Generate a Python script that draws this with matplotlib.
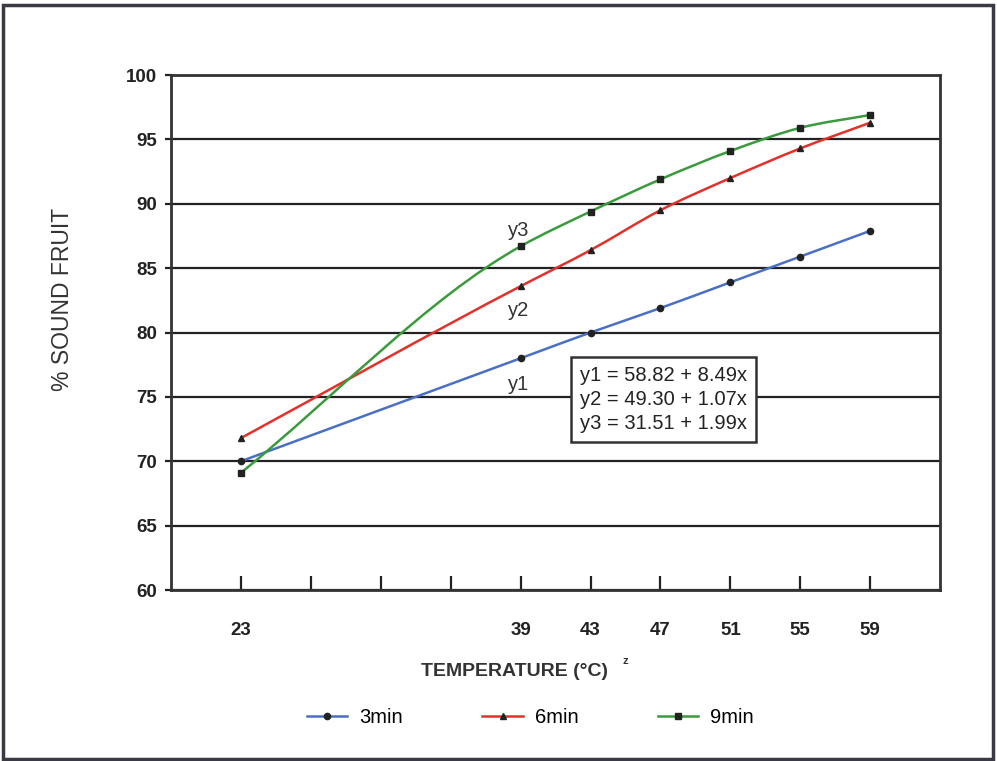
import matplotlib.pyplot as plt
import numpy as np
from matplotlib.path import Path
from matplotlib.patches import PathPatch, Rectangle
from matplotlib.lines import Line2D

plt.rcParams['font.family'] = ['Liberation Sans', 'DejaVu Sans']

# data
temps = [23, 39, 43, 47, 51, 55, 59]
sound_3min = [70.0, 78.0, 80.0, 81.9, 83.9, 85.9, 87.9]
sound_6min = [71.8, 83.6, 86.4, 89.5, 92.0, 94.3, 96.3]
sound_9min = [69.1, 86.7, 89.4, 91.9, 94.1, 95.9, 96.9]

tick_vals = [23, 27, 31, 35, 39, 43, 47, 51, 55, 59]
tick_labels = ['23', '', '', '', '39', '43', '47', '51', '55', '59']
equations = "y1 = 58.82 + 8.49x\ny2 = 49.30 + 1.07x\ny3 = 31.51 + 1.99x"

series = [
    ('3min', sound_3min, '#4a6fc4', 'o', 4.5),
    ('6min', sound_6min, '#e3302a', '^', 5),
    ('9min', sound_9min, '#3a9a3c', 's', 4.5),
]


def smooth_path(xs, ys):
    # hermite bezier through the points so the line looks smoothed like excel
    x = np.asarray(xs, float)
    y = np.asarray(ys, float)
    h = np.diff(x)
    d = np.diff(y) / h
    m = np.empty_like(y)
    m[0], m[-1] = d[0], d[-1]
    m[1:-1] = (d[:-1] * h[1:] + d[1:] * h[:-1]) / (h[:-1] + h[1:])
    verts = [(x[0], y[0])]
    codes = [Path.MOVETO]
    for i in range(len(x) - 1):
        verts += [(x[i] + h[i] / 3, y[i] + m[i] * h[i] / 3),
                  (x[i + 1] - h[i] / 3, y[i + 1] - m[i + 1] * h[i] / 3),
                  (x[i + 1], y[i + 1])]
        codes += [Path.CURVE4] * 3
    return Path(verts, codes)


fig = plt.figure(figsize=(9.97, 7.61), dpi=100)
ax = fig.add_axes([0.1715, 0.2247, 0.7715, 0.6767])

for name, vals, col, mk, ms in series:
    patch = PathPatch(smooth_path(temps, vals), facecolor='none', edgecolor=col, lw=1.8, zorder=3)
    ax.add_patch(patch)
    ax.plot(temps, vals, linestyle='none', marker=mk, color='#222222', markersize=ms, zorder=4)

ax.set_xlim(19, 63)
ax.set_ylim(60, 100)
ax.set_yticks(range(60, 101, 5))
ax.yaxis.grid(True, color='#222222', lw=1.6)
ax.set_axisbelow(True)
ax.set_xticks(tick_vals)
ax.set_xticklabels(tick_labels)

ax.tick_params(axis='x', direction='in', length=10, width=1.6, pad=23, labelsize=13.5, colors='#222222')
ax.tick_params(axis='y', direction='out', length=4, width=1.6, pad=6, labelsize=13.5, colors='#222222')
for lab in ax.get_xticklabels() + ax.get_yticklabels():
    lab.set_fontweight('bold')
for sp in ax.spines.values():
    sp.set_color('#333333')
    sp.set_linewidth(2)

# y label sits a bit above the axes centre in the original
fig.text(0.063, 0.606, '% SOUND FRUIT', rotation=90, ha='center', va='center',
         fontsize=16.5, color='#333333')

# series labels
ax.text(38.9, 87.9, 'y3', fontsize=14.5, ha='center', va='center', color='#333333')
ax.text(38.9, 81.7, 'y2', fontsize=14.5, ha='center', va='center', color='#333333')
ax.text(38.9, 76.0, 'y1', fontsize=14.5, ha='center', va='center', color='#333333')

# equations box
ax.text(42.4, 74.8, equations, fontsize=14.5, ha='left', va='center', linespacing=1.32,
        color='#222222',
        bbox=dict(boxstyle='square,pad=0.45', facecolor='white', edgecolor='#333333', lw=1.8), zorder=5)

# x label with superscript
fig.text(0.516, 0.117, 'TEMPERATURE (°C)', ha='center', va='center', fontsize=14,
         fontweight='bold', color='#333333')
fig.text(0.627, 0.132, 'z', ha='center', va='center', fontsize=8, fontweight='bold', color='#333333')

# legend
handles = [Line2D([], [], color=col, lw=1.8, marker=mk, markersize=ms,
                  markerfacecolor='#222222', markeredgecolor='#222222')
           for name, vals, col, mk, ms in series]
fig.legend(handles, [s[0] for s in series], loc='center', bbox_to_anchor=(0.532, 0.057),
           ncol=3, frameon=False, columnspacing=3.95, handlelength=2.0,
           handletextpad=0.6, prop={'size': 14.5})

# outer frame
fig.patches.append(Rectangle((0.0035, 0.003), 0.9925, 0.99, transform=fig.transFigure,
                             fill=False, edgecolor='#3a3a44', lw=2.5))

fig.savefig('out.png', dpi=100)
